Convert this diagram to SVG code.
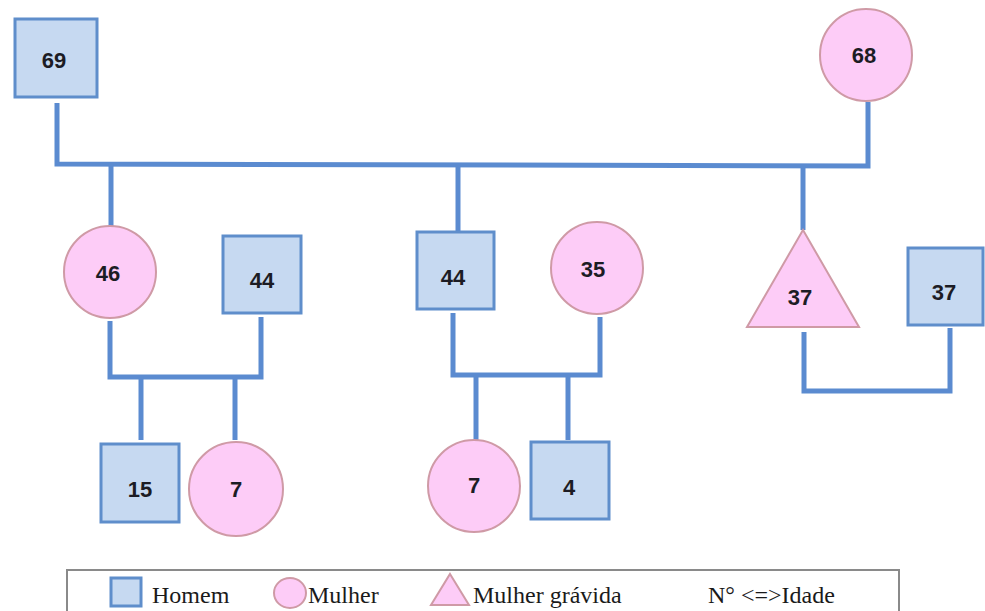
<svg xmlns="http://www.w3.org/2000/svg" width="985" height="611" viewBox="0 0 985 611">
<style>
.m{fill:#c6d9f1;stroke:#5f8ecb;stroke-width:3}
.f{fill:#fdccf7;stroke:#cf9aa6;stroke-width:2}
.n{font-family:"Liberation Sans",Arial,sans-serif;font-weight:bold;font-size:22px;fill:#1c1c24;text-anchor:middle}
.c{fill:none;stroke:#5b8bd0;stroke-width:5;stroke-linejoin:miter}
.l{font-family:"Liberation Serif","Times New Roman",serif;font-size:24px;fill:#1a1a1a}
</style>
<rect width="985" height="611" fill="#ffffff"/>
<g id="connectors">
<polyline class="c" points="57,103 57,164 868,166 868,102"/>
<line class="c" x1="111" y1="164" x2="111" y2="227"/>
<line class="c" x1="458" y1="165" x2="458" y2="232"/>
<line class="c" x1="803" y1="166" x2="803" y2="230"/>
<polyline class="c" points="110,321 110,377 261,377 261,317"/>
<line class="c" x1="141" y1="377" x2="141" y2="440"/>
<line class="c" x1="235" y1="377" x2="235" y2="440"/>
<polyline class="c" points="453,313 453,375 600,375 600,317"/>
<line class="c" x1="476" y1="375" x2="476" y2="440"/>
<line class="c" x1="568" y1="375" x2="568" y2="440"/>
<polyline class="c" points="804,332 804,391 950,391 950,328"/>
</g>
<g id="n69"><rect class="m" x="15" y="19" width="82" height="78"/><text class="n" x="54" y="68">69</text></g>
<g id="n68"><circle class="f" cx="866" cy="55" r="46"/><text class="n" x="864" y="63">68</text></g>
<g id="n46"><circle class="f" cx="110" cy="272" r="46"/><text class="n" x="108" y="281">46</text></g>
<g id="n44a"><rect class="m" x="223" y="236" width="78" height="77"/><text class="n" x="262" y="288">44</text></g>
<g id="n44b"><rect class="m" x="417" y="232" width="77" height="77"/><text class="n" x="453" y="285">44</text></g>
<g id="n35"><circle class="f" cx="597" cy="268" r="46"/><text class="n" x="593" y="277">35</text></g>
<g id="n37a"><polygon class="f" points="803,230 859,327 747,327"/><text class="n" x="800" y="305">37</text></g>
<g id="n37b"><rect class="m" x="908" y="248" width="75" height="77"/><text class="n" x="944" y="300">37</text></g>
<g id="n15"><rect class="m" x="101" y="444" width="78" height="78"/><text class="n" x="140" y="497">15</text></g>
<g id="n7a"><circle class="f" cx="236" cy="489" r="47"/><text class="n" x="236" y="497">7</text></g>
<g id="n7b"><circle class="f" cx="474" cy="486" r="46"/><text class="n" x="474" y="493">7</text></g>
<g id="n4"><rect class="m" x="531" y="442" width="78" height="77"/><text class="n" x="569" y="495">4</text></g>
<g id="legend">
<rect x="67" y="570" width="832" height="60" fill="#ffffff" stroke="#8a8a8a" stroke-width="2"/>
<rect class="m" x="111" y="578" width="30" height="28"/>
<text class="l" x="152" y="603">Homem</text>
<ellipse class="f" cx="290" cy="593" rx="16" ry="15"/>
<text class="l" x="308" y="603">Mulher</text>
<polygon class="f" points="450,574 469,605 431,605"/>
<text class="l" x="473" y="603">Mulher grávida</text>
<text class="l" x="708" y="603">N° &lt;=&gt;Idade</text>
</g>
</svg>
